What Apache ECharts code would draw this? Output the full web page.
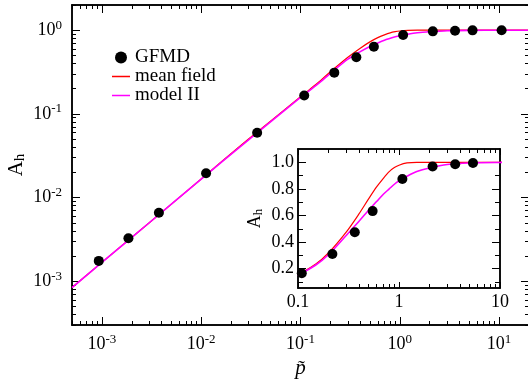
<!DOCTYPE html>
<html>
<head>
<meta charset="utf-8">
<script src="https://cdn.jsdelivr.net/npm/echarts@6/dist/echarts.min.js"></script>
<style>
  html, body { margin: 0; background: #fff; }
  #chart { width: 528px; height: 380px; }
</style>
</head>
<body>
<div id="chart"></div>
<script>
// GFMD data points
const gfmdP = [9.3e-4, 1.85e-3, 3.75e-3, 0.0112, 0.0366, 0.109, 0.219, 0.365, 0.548, 1.08, 2.15, 3.6, 5.4, 10.6];
const gfmdA = [1.75e-3, 3.27e-3, 6.6e-3, 0.0195, 0.0595, 0.166, 0.311, 0.474, 0.633, 0.874, 0.968, 0.985, 0.995, 0.996];

// theory curves
const curveP = [5e-4, 1e-3, 3e-3, 1e-2, 3e-2, 0.1, 0.15, 0.2, 0.3, 0.4, 0.5, 0.6, 0.7, 0.8, 0.9, 1.0, 1.2, 1.5, 2, 3, 5, 10, 20];
const meanFieldA = [8.4e-4, 1.68e-3, 5.0e-3, 0.0167, 0.050, 0.160, 0.235, 0.318, 0.475, 0.61, 0.725, 0.815, 0.88, 0.93, 0.96, 0.978, 0.995, 1.0, 1.0, 1.0, 1.0, 1.0, 1.0];
const modelIIA = [8.4e-4, 1.68e-3, 5.0e-3, 0.0166, 0.049, 0.157, 0.228, 0.305, 0.45, 0.555, 0.64, 0.705, 0.76, 0.80, 0.835, 0.86, 0.895, 0.93, 0.957, 0.983, 0.995, 0.999, 1.0];

// tick labels
const mainPTicks = [1e-3, 1e-2, 1e-1, 1, 10];
const mainATicks = [1e-3, 1e-2, 1e-1, 1];
const insetPTicks = [0.1, 1, 10];
const insetATicks = [0.2, 0.4, 0.6, 0.8, 1.0];
const insetAMinor = [0.1, 0.3, 0.5, 0.7, 0.9];

function logMinor(e0, e1) {
  const out = [];
  for (let e = e0; e <= e1; e++) {
    for (let k = 2; k <= 9; k++) out.push(+(k * Math.pow(10, e)).toPrecision(3));
  }
  return out;
}

const FONT = 'Liberation Serif';
const black = '#000';

const pow10 = v => '{b|10}{s|' + Math.round(Math.log10(v)) + '}';
const powRich = {
  b: { fontFamily: FONT, fontSize: 18, color: black, lineHeight: 23 },
  s: { fontFamily: FONT, fontSize: 13, color: black, verticalAlign: 'top' }
};

// one axis = either the major ticks (with labels) or the minor ticks
function axis(type, grid, pos, min, max, ticks, len, lineW, label) {
  return {
    type: type, gridIndex: grid, position: pos, min: min, max: max,
    splitLine: { show: false },
    axisLine: { show: true, onZero: false, lineStyle: { color: black, width: lineW } },
    axisTick: { show: true, inside: true, length: len, customValues: ticks, lineStyle: { color: black, width: 1 } },
    axisLabel: label ? Object.assign({ customValues: ticks }, label) : { show: false }
  };
}

const mainP = [5e-4, 20], mainA = [3e-4, 2];
const insP = [0.1, 10], insA = [0.055, 1.1];

const xAxis = [
  Object.assign(axis('log', 0, 'bottom', mainP[0], mainP[1], mainPTicks, 8, 1.5,
    { formatter: pow10, rich: powRich, margin: 8 }), {
    name: 'p\u0303', nameLocation: 'middle', nameGap: 28,
    nameTextStyle: { fontFamily: FONT, fontStyle: 'italic', fontSize: 21, color: black }
  }),
  axis('log', 0, 'bottom', mainP[0], mainP[1], logMinor(-4, 1), 4, 1.5),
  axis('log', 0, 'top', mainP[0], mainP[1], mainPTicks, 8, 1.5),
  axis('log', 0, 'top', mainP[0], mainP[1], logMinor(-4, 1), 4, 1.5),
  axis('log', 1, 'bottom', insP[0], insP[1], insetPTicks, 6, 1.5,
    { fontFamily: FONT, fontSize: 18, color: black, margin: 5, formatter: v => String(v) }),
  axis('log', 1, 'bottom', insP[0], insP[1], logMinor(-1, 0), 4, 1.5),
  axis('log', 1, 'top', insP[0], insP[1], insetPTicks, 6, 1.5),
  axis('log', 1, 'top', insP[0], insP[1], logMinor(-1, 0), 4, 1.5)
];

const yAxis = [
  Object.assign(axis('log', 0, 'left', mainA[0], mainA[1], mainATicks, 8, 1.5,
    { formatter: pow10, rich: powRich, margin: 10 }), {
    name: 'A{sub|h}', nameLocation: 'middle', nameGap: 44, nameRotate: 90, nameMoveOverlap: false,
    nameTextStyle: {
      fontFamily: FONT, fontSize: 21, color: black,
      rich: { sub: { fontFamily: FONT, fontSize: 15, color: black, verticalAlign: 'bottom', padding: [8, 0, 0, 0] } }
    }
  }),
  axis('log', 0, 'left', mainA[0], mainA[1], logMinor(-4, 0), 4, 1.5),
  axis('log', 0, 'right', mainA[0], mainA[1], mainATicks, 8, 1.5),
  axis('log', 0, 'right', mainA[0], mainA[1], logMinor(-4, 0), 4, 1.5),
  Object.assign(axis('value', 1, 'left', insA[0], insA[1], insetATicks, 8, 1.5,
    { fontFamily: FONT, fontSize: 18, color: black, margin: 4, formatter: v => v.toFixed(1) }), {
    name: 'A{sub|h}', nameLocation: 'middle', nameGap: 33, nameRotate: 90,
    nameTextStyle: {
      fontFamily: FONT, fontSize: 18, color: black,
      rich: { sub: { fontFamily: FONT, fontSize: 13, color: black, verticalAlign: 'bottom', padding: [7, 0, 0, 0] } }
    }
  }),
  axis('value', 1, 'left', insA[0], insA[1], insetAMinor, 5, 1.5),
  axis('value', 1, 'right', insA[0], insA[1], insetATicks, 8, 1.5),
  axis('value', 1, 'right', insA[0], insA[1], insetAMinor, 5, 1.5)
];

const zip = (xs, ys) => xs.map((x, i) => [x, ys[i]]);

function curves(xi, yi) {
  return [
    { name: 'mean field', type: 'line', xAxisIndex: xi, yAxisIndex: yi, data: zip(curveP, meanFieldA),
      showSymbol: false, smooth: 0.3, color: '#ff0000', lineStyle: { color: '#ff0000', width: 1.2 }, z: 2 },
    { name: 'model II', type: 'line', xAxisIndex: xi, yAxisIndex: yi, data: zip(curveP, modelIIA),
      showSymbol: false, smooth: 0.3, color: '#ff00ff', lineStyle: { color: '#ff00ff', width: 1.6 }, z: 3 },
    { name: 'GFMD', type: 'scatter', xAxisIndex: xi, yAxisIndex: yi, data: zip(gfmdP, gfmdA),
      symbolSize: 10, color: black, itemStyle: { color: black, opacity: 1 }, z: 4 }
  ];
}

// legend line icon: invisible full-height stroke keeps the box, thin bar in the middle
const linePath = 'path://M0,0h0v12h0z M0,5.25h18v1.5h-18z';

const chart = echarts.init(document.getElementById('chart'), null, { renderer: 'canvas' });
chart.setOption({
  animation: false,
  backgroundColor: '#fff',
  grid: [
    { left: 72, top: 5, width: 457, height: 320, outerBoundsMode: 'none' },
    { left: 298, top: 149, width: 202, height: 139, outerBoundsMode: 'none' }
  ],
  legend: {
    orient: 'vertical', left: 107, top: 43,
    itemWidth: 18, itemHeight: 12, itemGap: 0, selectedMode: false,
    textStyle: { fontFamily: FONT, fontSize: 19, lineHeight: 19, color: black },
    data: [
      { name: 'GFMD', icon: 'circle', itemStyle: { color: black } },
      { name: 'mean field', icon: linePath, itemStyle: { color: '#ff0000' } },
      { name: 'model II', icon: linePath, itemStyle: { color: '#ff00ff' } }
    ]
  },
  xAxis: xAxis,
  yAxis: yAxis,
  series: curves(0, 0).concat(curves(4, 4))
});
</script>
</body>
</html>
